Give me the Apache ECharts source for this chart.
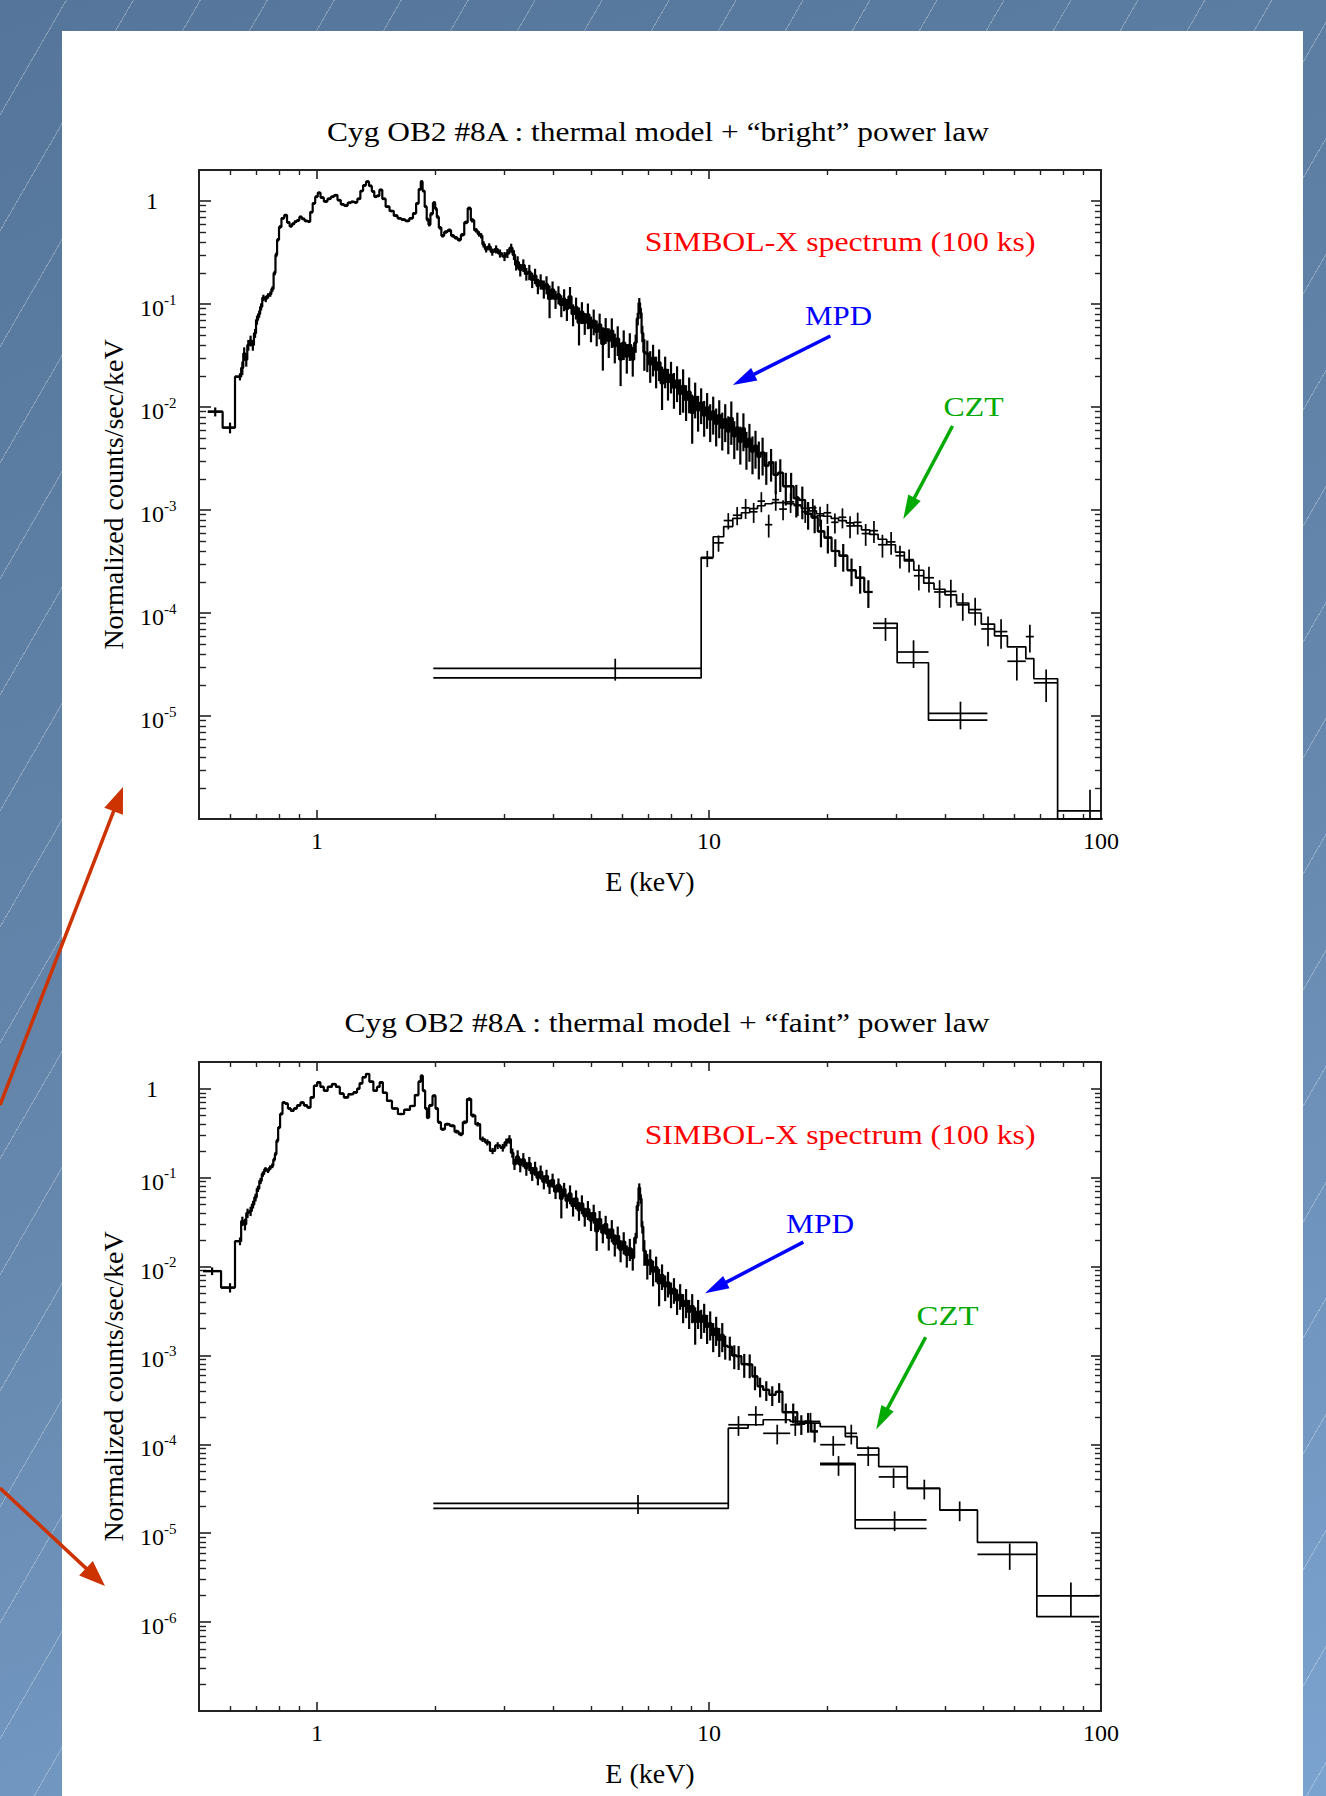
<!DOCTYPE html>
<html>
<head>
<meta charset="utf-8">
<title>Cyg OB2 #8A - SIMBOL-X spectra</title>
<script src="https://cdn.jsdelivr.net/npm/echarts@6/dist/echarts.min.js"></script>
<style>
  html, body { margin: 0; padding: 0; }
  body {
    width: 1326px; height: 1796px; position: relative; overflow: hidden;
    background:
      repeating-linear-gradient(120deg, rgba(255,255,255,0) 0px, rgba(255,255,255,0) 57px, rgba(255,255,255,0.28) 57px, rgba(255,255,255,0.28) 58px),
      linear-gradient(160deg, #55769a 0%, #6688ae 55%, #7ba3cf 100%);
  }
  #sheet { position: absolute; left: 62px; top: 31px; width: 1241px; height: 1765px; background: #fff; }
  #chart { position: absolute; left: 0; top: 0; width: 1326px; height: 1796px; }
</style>
</head>
<body>
<div id="sheet"></div>
<div id="chart"></div>
<script>
// ---- axes ----
var energyTicks = [1, 10, 100];
var minorSteps = [2, 3, 4, 5, 6, 7, 8, 9];
var countTicksBright = [1, 0.1, 0.01, 0.001, 1e-4, 1e-5];
var countTicksFaint = [1, 0.1, 0.01, 0.001, 1e-4, 1e-5, 1e-6];

var panelTitles = [
  'Cyg OB2 #8A : thermal model + \u201cbright\u201d power law',
  'Cyg OB2 #8A : thermal model + \u201cfaint\u201d power law'
];

// ---- MPD, bright power law : [E keV, counts/s/keV, fractional error] ----
var mpdBright = [
  [0.55, 0.0090, 0.10], [0.60, 0.0063, 0.12], [0.636, 0.0197, 0.08], [0.645, 0.024, 0.15],
  [0.652, 0.033, 0.15], [0.660, 0.029, 0.15], [0.668, 0.040, 0.12], [0.677, 0.044, 0.12],
  [0.686, 0.040, 0.12], [0.695, 0.052, 0.10], [0.703, 0.070, 0.10], [0.712, 0.080, 0.08],
  [0.720, 0.094, 0.08], [0.730, 0.115, 0.07], [0.740, 0.112, 0.07], [0.750, 0.120, 0.06],
  [0.760, 0.125, 0.06], [0.770, 0.140, 0.06], [0.780, 0.200, 0.05], [0.787, 0.300, 0.05],
  [0.795, 0.420, 0.04], [0.805, 0.560, 0.04], [0.818, 0.680, 0.03], [0.832, 0.730, 0.03],
  [0.845, 0.620, 0.03], [0.858, 0.570, 0.03], [0.870, 0.600, 0.03], [0.882, 0.630, 0.03],
  [0.895, 0.650, 0.03], [0.908, 0.700, 0.03], [0.922, 0.670, 0.03], [0.938, 0.640, 0.03],
  [0.954, 0.630, 0.03], [0.968, 0.780, 0.03], [0.982, 0.950, 0.03], [0.997, 1.10, 0.03],
  [1.012, 1.20, 0.03], [1.030, 1.08, 0.03], [1.052, 0.99, 0.03], [1.075, 1.05, 0.03],
  [1.095, 1.10, 0.03], [1.116, 1.14, 0.03], [1.140, 1.02, 0.03], [1.160, 0.93, 0.03],
  [1.185, 0.90, 0.03], [1.210, 0.96, 0.03], [1.231, 0.98, 0.03], [1.255, 0.97, 0.03],
  [1.280, 1.05, 0.03], [1.300, 1.25, 0.03], [1.322, 1.42, 0.03], [1.345, 1.54, 0.03],
  [1.370, 1.40, 0.03], [1.390, 1.24, 0.03], [1.410, 1.10, 0.03], [1.430, 1.12, 0.03],
  [1.455, 1.28, 0.03], [1.480, 1.05, 0.03], [1.513, 0.88, 0.03], [1.550, 0.80, 0.03],
  [1.590, 0.72, 0.03], [1.621, 0.68, 0.03], [1.660, 0.66, 0.03], [1.700, 0.64, 0.03],
  [1.740, 0.68, 0.03], [1.775, 0.76, 0.03], [1.805, 0.95, 0.03], [1.830, 1.30, 0.03],
  [1.849, 1.54, 0.03], [1.870, 1.25, 0.03], [1.895, 0.88, 0.03], [1.915, 0.66, 0.04],
  [1.934, 0.59, 0.04], [1.960, 0.75, 0.04], [1.992, 0.96, 0.04], [2.012, 0.84, 0.04],
  [2.031, 0.70, 0.04], [2.060, 0.55, 0.04], [2.092, 0.46, 0.04], [2.130, 0.50, 0.04],
  [2.176, 0.52, 0.04], [2.220, 0.46, 0.04], [2.260, 0.44, 0.04], [2.307, 0.42, 0.04],
  [2.350, 0.47, 0.04], [2.400, 0.62, 0.04], [2.447, 0.85, 0.04], [2.490, 0.65, 0.05],
  [2.546, 0.52, 0.05], [2.590, 0.48, 0.06], [2.623, 0.46, 0.06], [2.660, 0.38, 0.07],
  [2.701, 0.34, 0.07], [2.750, 0.36, 0.08], [2.800, 0.32, 0.08], [2.864, 0.34, 0.09],
  [2.930, 0.31, 0.09], [3.008, 0.29, 0.10], [3.060, 0.31, 0.10], [3.129, 0.35, 0.10],
  [3.180, 0.30, 0.11], [3.222, 0.24, 0.12],
  [3.25, 0.255, 0.14], [3.30, 0.215, 0.14], [3.36, 0.238, 0.14], [3.42, 0.196, 0.14],
  [3.48, 0.205, 0.17], [3.54, 0.172, 0.17], [3.60, 0.188, 0.17], [3.66, 0.150, 0.17],
  [3.72, 0.166, 0.17], [3.79, 0.141, 0.20], [3.85, 0.155, 0.20], [3.92, 0.112, 0.35],
  [3.99, 0.138, 0.20], [4.06, 0.112, 0.20], [4.13, 0.124, 0.20], [4.20, 0.098, 0.24],
  [4.27, 0.112, 0.24], [4.34, 0.090, 0.24], [4.42, 0.118, 0.24], [4.50, 0.080, 0.24],
  [4.58, 0.093, 0.24], [4.66, 0.066, 0.40], [4.74, 0.084, 0.24], [4.82, 0.066, 0.24],
  [4.91, 0.079, 0.28], [5.00, 0.059, 0.28], [5.08, 0.069, 0.28], [5.17, 0.054, 0.28],
  [5.26, 0.063, 0.28], [5.36, 0.041, 0.45], [5.45, 0.057, 0.28], [5.55, 0.044, 0.32],
  [5.65, 0.055, 0.32], [5.75, 0.039, 0.32], [5.85, 0.046, 0.32], [5.95, 0.029, 0.45],
  [6.06, 0.042, 0.32], [6.17, 0.031, 0.32], [6.28, 0.040, 0.30], [6.39, 0.029, 0.32],
  [6.50, 0.042, 0.20], [6.58, 0.072, 0.14], [6.64, 0.102, 0.12], [6.70, 0.082, 0.12],
  [6.76, 0.052, 0.18], [6.84, 0.034, 0.34], [6.96, 0.033, 0.34], [7.08, 0.026, 0.34],
  [7.20, 0.030, 0.34], [7.33, 0.023, 0.34], [7.46, 0.027, 0.34], [7.59, 0.017, 0.45],
  [7.73, 0.023, 0.34], [7.86, 0.0175, 0.34], [8.00, 0.0205, 0.34], [8.14, 0.0155, 0.38],
  [8.29, 0.0180, 0.38], [8.44, 0.0135, 0.38], [8.59, 0.0160, 0.45], [8.74, 0.0118, 0.38],
  [8.90, 0.0140, 0.38], [9.06, 0.0088, 0.50], [9.22, 0.0125, 0.38], [9.38, 0.0093, 0.38],
  [9.55, 0.0110, 0.38], [9.72, 0.0083, 0.38], [9.89, 0.0099, 0.38], [10.07, 0.0076, 0.40],
  [10.25, 0.0090, 0.40], [10.43, 0.0069, 0.40], [10.62, 0.0083, 0.40], [10.81, 0.0063, 0.40],
  [11.00, 0.0076, 0.40], [11.20, 0.0058, 0.40], [11.40, 0.0078, 0.45], [11.60, 0.0052, 0.40],
  [11.81, 0.0063, 0.40], [12.02, 0.0046, 0.40], [12.24, 0.0062, 0.40], [12.46, 0.0041, 0.40],
  [12.68, 0.0049, 0.40], [12.91, 0.0037, 0.40], [13.14, 0.0042, 0.40], [13.4, 0.0033, 0.40],
  [13.7, 0.0036, 0.40], [14.0, 0.0027, 0.35], [14.4, 0.0029, 0.35], [14.8, 0.0022, 0.35],
  [15.2, 0.0023, 0.35], [15.7, 0.0017, 0.35], [16.2, 0.0017, 0.35], [16.7, 0.0013, 0.35],
  [17.3, 0.00125, 0.35], [17.9, 0.00092, 0.30], [18.6, 0.00085, 0.30], [19.3, 0.00062, 0.30],
  [20.1, 0.00054, 0.30], [21.0, 0.00040, 0.30], [22.0, 0.00036, 0.30], [23.1, 0.00026, 0.30],
  [24.3, 0.00022, 0.30], [25.5, 0.000160, 0.30]
];
// MPD bright, last wide bins
var mpdBrightTailEdges = [26.2, 30.2, 36.3, 51.3];
var mpdBrightTailData = [7.15e-5, 4.18e-5, 1.06e-5];
var mpdBrightTailModel = [7.94e-5, 3.29e-5, 9.1e-6];
var mpdBrightTailErr = [0.25, 0.30, 0.30];

// ---- CZT, bright power law ----
var cztBrightEdges = [1.98, 9.55, 10.25, 10.9, 11.5, 12.1, 12.7, 13.3, 13.9, 14.5, 15.1, 15.8, 16.5, 17.2,
  18.0, 18.8, 19.6, 20.5, 21.4, 22.4, 23.4, 24.5, 25.7, 27.0, 28.4, 29.9, 31.5, 33.3, 35.3, 37.5,
  40.0, 42.8, 46.0, 49.5, 53.5, 57.7, 64.3, 67.4, 77.5, 110];
var cztBrightData = [2.9e-5, 3.4e-4, 4.8e-4, 7.9e-4, 8.9e-4, 1.05e-3, 9.6e-4, 1.22e-3, 7.2e-4, 1.26e-3,
  1.02e-3, 1.20e-3, 1.12e-3, 9.6e-4, 1.05e-3, 8.8e-4, 9.4e-4, 7.6e-4, 8.5e-4, 7.0e-4,
  7.6e-4, 5.9e-4, 6.3e-4, 4.6e-4, 4.9e-4, 3.6e-4, 3.3e-4, 2.3e-4, 2.2e-4, 1.6e-4,
  1.62e-4, 1.2e-4, 1.08e-4, 7.0e-5, 6.6e-5, 3.4e-5, 5.9e-5, 2.1e-5, 1.2e-6];
var cztBrightModel = [2.35e-5, 3.47e-4, 5.5e-4, 6.9e-4, 8.3e-4, 9.4e-4, 1.03e-3, 1.10e-3, 1.15e-3, 1.18e-3,
  1.18e-3, 1.15e-3, 1.10e-3, 1.04e-3, 9.8e-4, 9.2e-4, 8.7e-4, 8.3e-4, 7.9e-4, 7.5e-4,
  7.0e-4, 6.4e-4, 5.8e-4, 5.2e-4, 4.6e-4, 3.9e-4, 3.2e-4, 2.6e-4, 1.95e-4, 1.7e-4,
  1.5e-4, 1.25e-4, 1.0e-4, 7.8e-5, 6.0e-5, 4.7e-5, 3.6e-5, 2.3e-5, 1.0e-6];
var cztBrightErr = [0.24, 0.18, 0.18, 0.18, 0.20, 0.22, 0.22, 0.22, 0.25, 0.22,
  0.22, 0.22, 0.22, 0.22, 0.22, 0.22, 0.22, 0.22, 0.22, 0.24,
  0.24, 0.24, 0.24, 0.25, 0.25, 0.25, 0.25, 0.28, 0.28, 0.30,
  0.30, 0.30, 0.30, 0.32, 0.32, 0.35, 0.30, 0.35, 0.60];

// ---- MPD, faint power law : [E keV, counts/s/keV, fractional error] ----
var mpdFaint = [
  [0.54, 0.0089, 0.10], [0.60, 0.0058, 0.12], [0.636, 0.0193, 0.10], [0.645, 0.0325, 0.12],
  [0.655, 0.030, 0.15], [0.665, 0.040, 0.12], [0.677, 0.042, 0.12], [0.687, 0.050, 0.10],
  [0.697, 0.060, 0.10], [0.707, 0.075, 0.08], [0.718, 0.092, 0.08], [0.728, 0.110, 0.07],
  [0.739, 0.124, 0.06], [0.750, 0.120, 0.06], [0.760, 0.130, 0.06], [0.769, 0.136, 0.06],
  [0.778, 0.160, 0.05], [0.784, 0.185, 0.05], [0.792, 0.260, 0.05], [0.800, 0.366, 0.04],
  [0.810, 0.520, 0.04], [0.823, 0.700, 0.03], [0.836, 0.680, 0.03], [0.850, 0.600, 0.03],
  [0.865, 0.565, 0.03], [0.880, 0.600, 0.03], [0.898, 0.650, 0.03], [0.917, 0.700, 0.03],
  [0.935, 0.650, 0.03], [0.954, 0.616, 0.03], [0.972, 0.800, 0.03], [0.992, 1.08, 0.03],
  [1.010, 1.18, 0.03], [1.030, 1.05, 0.03], [1.052, 0.95, 0.03], [1.078, 1.05, 0.03],
  [1.105, 1.13, 0.03], [1.130, 1.05, 0.03], [1.157, 0.88, 0.03], [1.184, 0.80, 0.03],
  [1.220, 0.87, 0.03], [1.256, 0.91, 0.03], [1.275, 1.00, 0.03], [1.293, 1.15, 0.03],
  [1.320, 1.35, 0.03], [1.345, 1.465, 0.03], [1.375, 1.20, 0.03], [1.410, 0.95, 0.03],
  [1.435, 1.05, 0.03], [1.455, 1.18, 0.03], [1.490, 0.90, 0.03], [1.527, 0.73, 0.03],
  [1.580, 0.60, 0.03], [1.637, 0.52, 0.03], [1.700, 0.58, 0.03], [1.753, 0.64, 0.03],
  [1.800, 0.85, 0.03], [1.830, 1.20, 0.03], [1.849, 1.40, 0.03], [1.875, 0.95, 0.04],
  [1.900, 0.60, 0.04], [1.915, 0.475, 0.04], [1.950, 0.65, 0.04], [1.992, 0.834, 0.04],
  [2.020, 0.60, 0.04], [2.050, 0.42, 0.04], [2.092, 0.351, 0.04], [2.150, 0.40, 0.04],
  [2.216, 0.383, 0.04], [2.270, 0.33, 0.05], [2.330, 0.308, 0.05], [2.380, 0.42, 0.05],
  [2.447, 0.765, 0.05], [2.500, 0.50, 0.05], [2.570, 0.40, 0.06], [2.646, 0.271, 0.07],
  [2.720, 0.25, 0.08], [2.805, 0.20, 0.08], [2.890, 0.23, 0.09], [2.978, 0.218, 0.10],
  [3.040, 0.25, 0.10], [3.097, 0.271, 0.11], [3.150, 0.19, 0.12], [3.190, 0.142, 0.14],
  [3.25, 0.172, 0.18], [3.30, 0.140, 0.18], [3.36, 0.160, 0.18], [3.42, 0.128, 0.18],
  [3.48, 0.145, 0.18], [3.54, 0.112, 0.18], [3.60, 0.128, 0.18], [3.66, 0.100, 0.18],
  [3.72, 0.116, 0.18], [3.79, 0.090, 0.18], [3.85, 0.104, 0.18], [3.92, 0.080, 0.18],
  [3.99, 0.094, 0.18], [4.06, 0.070, 0.18], [4.13, 0.083, 0.18], [4.20, 0.058, 0.40],
  [4.27, 0.074, 0.18], [4.34, 0.055, 0.18], [4.42, 0.066, 0.24], [4.50, 0.048, 0.24],
  [4.58, 0.058, 0.24], [4.66, 0.043, 0.24], [4.74, 0.051, 0.24], [4.82, 0.037, 0.24],
  [4.91, 0.044, 0.24], [5.00, 0.033, 0.24], [5.08, 0.040, 0.24], [5.17, 0.025, 0.40],
  [5.26, 0.034, 0.24], [5.36, 0.024, 0.24], [5.45, 0.030, 0.24], [5.55, 0.021, 0.28],
  [5.65, 0.026, 0.28], [5.75, 0.018, 0.28], [5.85, 0.022, 0.28], [5.95, 0.0155, 0.28],
  [6.06, 0.0190, 0.28], [6.17, 0.0135, 0.28], [6.28, 0.0160, 0.28], [6.39, 0.0125, 0.28],
  [6.50, 0.021, 0.14], [6.58, 0.048, 0.12], [6.64, 0.077, 0.12], [6.70, 0.058, 0.12],
  [6.76, 0.028, 0.16], [6.84, 0.0150, 0.32], [6.96, 0.0105, 0.32], [7.08, 0.0118, 0.32],
  [7.20, 0.0088, 0.32], [7.33, 0.0098, 0.32], [7.46, 0.0065, 0.45], [7.59, 0.0080, 0.32],
  [7.73, 0.0060, 0.32], [7.86, 0.0066, 0.32], [8.00, 0.0050, 0.32], [8.14, 0.0056, 0.32],
  [8.29, 0.0042, 0.32], [8.44, 0.0048, 0.32], [8.59, 0.0036, 0.36], [8.74, 0.0041, 0.36],
  [8.90, 0.0031, 0.36], [9.06, 0.0036, 0.36], [9.22, 0.0024, 0.45], [9.38, 0.0031, 0.36],
  [9.55, 0.0024, 0.36], [9.72, 0.0028, 0.36], [9.89, 0.0021, 0.36], [10.07, 0.0023, 0.36],
  [10.25, 0.0017, 0.36], [10.43, 0.0020, 0.36], [10.62, 0.0015, 0.36], [10.81, 0.0017, 0.36],
  [11.0, 0.00128, 0.30], [11.3, 0.00125, 0.30], [11.6, 0.00100, 0.30], [11.9, 0.00098, 0.30],
  [12.3, 0.00080, 0.30], [12.7, 0.00079, 0.30], [13.1, 0.00058, 0.30], [13.5, 0.00045, 0.25],
  [14.0, 0.00041, 0.25], [14.5, 0.00036, 0.25], [15.1, 0.00039, 0.25], [15.7, 0.00023, 0.25],
  [16.4, 0.00023, 0.25], [17.2, 0.00017, 0.25], [17.9, 0.00018, 0.25], [18.6, 0.00014, 0.25]
];
var mpdFaintTailEdges = [19.2, 23.6, 35.9];
var mpdFaintTailData = [5.9e-5, 1.41e-5];
var mpdFaintTailModel = [6.1e-5, 1.13e-5];
var mpdFaintTailErr = [0.25, 0.25];

// ---- CZT, faint power law ----
var cztFaintEdges = [1.98, 11.2, 12.58, 13.75, 16.11, 17.09, 19.22, 22.27, 23.86, 27.1, 32.04, 38.8, 48.4, 68.6, 99];
var cztFaintData = [2.17e-5, 1.66e-4, 2.15e-4, 1.33e-4, 1.66e-4, 1.81e-4, 9.9e-5, 1.33e-4, 7.6e-5, 4.3e-5, 3.2e-5, 1.82e-5, 5.77e-6, 1.97e-6];
var cztFaintModel = [1.9e-5, 1.52e-4, 1.66e-4, 1.89e-4, 1.81e-4, 1.73e-4, 1.58e-4, 1.22e-4, 9.04e-5, 5.6e-5, 3.2e-5, 1.82e-5, 7.87e-6, 1.15e-6];
var cztFaintErr = [0.24, 0.25, 0.25, 0.25, 0.25, 0.25, 0.25, 0.25, 0.25, 0.25, 0.25, 0.25, 0.33, 0.42];

// annotation anchors, in data coordinates [E, counts]
var notesBright = { simbol: [21.6, 0.409], mpd: [21.4, 0.0765], mpdFrom: [20.4, 0.0489], mpdTo: [11.5, 0.01636],
  czt: [47.3, 0.0100], cztFrom: [41.8, 0.00654], cztTo: [31.3, 0.000818] };
var notesFaint = { simbol: [21.6, 0.311], mpd: [19.2, 0.0301], mpdFrom: [17.4, 0.0188], mpdTo: [9.77, 0.00501],
  czt: [40.6, 0.00276], cztFrom: [35.7, 0.0016], cztTo: [26.7, 0.000147] };

var SERIF = '"Liberation Serif", "Times New Roman", serif';
var AXIS_COLOR = '#222';

function minorValues(lo, hi) {
  var out = [];
  for (var d = lo; d < hi * 1.0001; d *= 10) {
    minorSteps.forEach(function (m) {
      var v = m * d;
      if (v > lo && v < hi) out.push(v);
    });
  }
  return out;
}

function xAxesFor(g) {
  var minors = minorValues(0.1, 100).filter(function (v) { return v > 0.5; });
  var base = function (extra) {
    return Object.assign({ type: 'log', logBase: 10, gridIndex: g, min: 0.5, max: 100,
      splitLine: { show: false }, axisPointer: { show: false } }, extra);
  };
  var lineOn = { show: true, onZero: false, lineStyle: { color: AXIS_COLOR, width: 2 } };
  return [
    base({ position: 'bottom', axisLine: lineOn,
      axisTick: { inside: true, length: 9, customValues: energyTicks, lineStyle: { color: AXIS_COLOR, width: 1.6 } },
      axisLabel: { customValues: energyTicks, margin: 10, color: '#000', fontFamily: SERIF, fontSize: 24,
        formatter: function (v) { return String(Math.round(v)); } },
      name: 'E (keV)', nameLocation: 'middle', nameGap: 48,
      nameTextStyle: { color: '#000', fontFamily: SERIF, fontSize: 28 } }),
    base({ position: 'bottom', axisLine: { show: false },
      axisTick: { inside: true, length: 5, customValues: minors, lineStyle: { color: AXIS_COLOR, width: 1.4 } },
      axisLabel: { show: false, customValues: minors } }),
    base({ position: 'top', axisLine: lineOn,
      axisTick: { inside: true, length: 9, customValues: energyTicks, lineStyle: { color: AXIS_COLOR, width: 1.6 } },
      axisLabel: { show: false, customValues: energyTicks } }),
    base({ position: 'top', axisLine: { show: false },
      axisTick: { inside: true, length: 5, customValues: minors, lineStyle: { color: AXIS_COLOR, width: 1.4 } },
      axisLabel: { show: false, customValues: minors } })
  ];
}

function yAxesFor(g, min, majors) {
  var minors = minorValues(min, 2);
  var base = function (extra) {
    return Object.assign({ type: 'log', logBase: 10, gridIndex: g, min: min, max: 2,
      splitLine: { show: false }, axisPointer: { show: false } }, extra);
  };
  var lineOn = { show: true, onZero: false, lineStyle: { color: AXIS_COLOR, width: 2 } };
  return [
    base({ position: 'left', axisLine: lineOn,
      axisTick: { inside: true, length: 12, customValues: majors, lineStyle: { color: AXIS_COLOR, width: 1.6 } },
      axisLabel: { customValues: majors, align: 'left', margin: 59, color: '#000', fontFamily: SERIF,
        formatter: function (v) {
          var p = Math.round(Math.log10(v));
          return p === 0 ? '{one|1}' : '{b|10}{s|' + p + '}';
        },
        rich: {
          one: { fontSize: 24, fontFamily: SERIF, color: '#000', padding: [0, 0, 0, 6] },
          b: { fontSize: 24, lineHeight: 24, fontFamily: SERIF, color: '#000', padding: [8, 0, 0, 0] },
          s: { fontSize: 15, lineHeight: 15, fontFamily: SERIF, color: '#000', verticalAlign: 'top' }
        } },
      name: 'Normalized counts/sec/keV', nameLocation: 'middle', nameGap: 72,
      nameTextStyle: { color: '#000', fontFamily: SERIF, fontSize: 28 } }),
    base({ position: 'left', axisLine: { show: false },
      axisTick: { inside: true, length: 7, customValues: minors, lineStyle: { color: AXIS_COLOR, width: 1.4 } },
      axisLabel: { show: false, customValues: minors } }),
    base({ position: 'right', axisLine: lineOn,
      axisTick: { inside: true, length: 10, customValues: majors, lineStyle: { color: AXIS_COLOR, width: 1.6 } },
      axisLabel: { show: false, customValues: majors } }),
    base({ position: 'right', axisLine: { show: false },
      axisTick: { inside: true, length: 6, customValues: minors, lineStyle: { color: AXIS_COLOR, width: 1.4 } },
      axisLabel: { show: false, customValues: minors } })
  ];
}

function crossRenderer(width) {
  return function (params, api) {
    var cs = params.coordSys;
    var left = cs.x, right = cs.x + cs.width, top = cs.y, bottom = cs.y + cs.height;
    var e = api.value(0), v = api.value(1), lo = api.value(2), hi = api.value(3), er = api.value(4);
    var a = api.coord([lo, v]), b = api.coord([hi, v]);
    var c = api.coord([e, v * (1 + er)]), d = api.coord([e, v * (1 - er)]);
    var clampY = function (y) { return Math.max(top, Math.min(bottom, y)); };
    var kids = [];
    if (a[1] >= top && a[1] <= bottom) {
      kids.push({ type: 'line', shape: { x1: Math.max(a[0], left), y1: a[1], x2: Math.min(b[0], right), y2: b[1] },
        style: { stroke: '#000', lineWidth: width } });
    }
    if (c[0] >= left && c[0] <= right && c[1] < bottom) {
      kids.push({ type: 'line', shape: { x1: c[0], y1: clampY(c[1]), x2: d[0], y2: clampY(d[1]) },
        style: { stroke: '#000', lineWidth: width } });
    }
    return { type: 'group', children: kids };
  };
}

function stepLine(lo, hi, vals, axis, width) {
  var pts = [];
  for (var i = 0; i < vals.length; i++) { pts.push([lo[i], vals[i]]); pts.push([hi[i], vals[i]]); }
  return { type: 'line', data: pts, xAxisIndex: axis, yAxisIndex: axis, symbol: 'none', showSymbol: false,
    silent: true, clip: true, z: 3, lineStyle: { color: '#000', width: width } };
}

function crossSeries(items, axis, width) {
  return { type: 'custom', data: items, xAxisIndex: axis, yAxisIndex: axis, renderItem: crossRenderer(width),
    encode: { x: 0, y: 1 }, silent: true, clip: true, z: 4 };
}

// unbinned MPD list: bin edges half-way (in log) between neighbouring energies
function denseSpectrum(rows, axis) {
  var lo = [], hi = [], vals = [], items = [];
  for (var i = 0; i < rows.length; i++) {
    var e = rows[i][0];
    var prev = i > 0 ? rows[i - 1][0] : e * e / rows[i + 1][0];
    var next = i < rows.length - 1 ? rows[i + 1][0] : e * e / rows[i - 1][0];
    lo.push(Math.sqrt(prev * e)); hi.push(Math.sqrt(e * next)); vals.push(rows[i][1]);
    items.push([e, rows[i][1], lo[i], hi[i], rows[i][2]]);
  }
  return [stepLine(lo, hi, vals, axis, 2.2), crossSeries(items, axis, 2.2)];
}

function binnedSpectrum(edges, data, model, err, axis) {
  var lo = edges.slice(0, -1), hi = edges.slice(1), items = [];
  for (var i = 0; i < data.length; i++) {
    items.push([(lo[i] + hi[i]) / 2, data[i], lo[i], hi[i], err[i]]);
  }
  return [stepLine(lo, hi, model, axis, 1.7), crossSeries(items, axis, 1.7)];
}

var series = [].concat(
  denseSpectrum(mpdBright, 0),
  binnedSpectrum(mpdBrightTailEdges, mpdBrightTailData, mpdBrightTailModel, mpdBrightTailErr, 0),
  binnedSpectrum(cztBrightEdges, cztBrightData, cztBrightModel, cztBrightErr, 0),
  denseSpectrum(mpdFaint, 4),
  binnedSpectrum(mpdFaintTailEdges, mpdFaintTailData, mpdFaintTailModel, mpdFaintTailErr, 4),
  binnedSpectrum(cztFaintEdges, cztFaintData, cztFaintModel, cztFaintErr, 4)
);

var chart = echarts.init(document.getElementById('chart'), null, { renderer: 'svg' });
chart.setOption({
  animation: false,
  backgroundColor: 'transparent',
  grid: [
    { left: 199, top: 170, width: 902, height: 649 },
    { left: 199, top: 1062, width: 902, height: 649 }
  ],
  xAxis: xAxesFor(0).concat(xAxesFor(1)),
  yAxis: yAxesFor(0, 1e-6, countTicksBright).concat(yAxesFor(1, 1e-7, countTicksFaint)),
  series: series
});

// ---- titles, labels and arrows ----
var measureCtx = document.createElement('canvas').getContext('2d');
function textScale(text, font, width) {
  measureCtx.font = font;
  var w = measureCtx.measureText(text).width;
  return w > 0 ? width / w : 1;
}
function textEl(text, pos, size, color, width) {
  var font = size + 'px ' + SERIF;
  return { type: 'text', x: pos[0], y: pos[1], scaleX: textScale(text, font, width), z: 60,
    style: { text: text, font: font, fill: color, align: 'center', verticalAlign: 'middle' } };
}
function arrowEls(p1, p2, color, width, headLen, headHalf) {
  var dx = p2[0] - p1[0], dy = p2[1] - p1[1], len = Math.sqrt(dx * dx + dy * dy);
  var ux = dx / len, uy = dy / len;
  var bx = p2[0] - ux * headLen, by = p2[1] - uy * headLen;
  return [
    { type: 'line', z: 60, shape: { x1: p1[0], y1: p1[1], x2: bx + ux * 2, y2: by + uy * 2 },
      style: { stroke: color, lineWidth: width } },
    { type: 'polygon', z: 60, shape: { points: [[p2[0], p2[1]], [bx - uy * headHalf, by + ux * headHalf], [bx + uy * headHalf, by - ux * headHalf]] },
      style: { fill: color } }
  ];
}
function toPx(axis, p) { return chart.convertToPixel({ xAxisIndex: axis, yAxisIndex: axis }, p); }

function panelNotes(axis, n, widths) {
  return [
    textEl('SIMBOL-X spectrum (100 ks)', toPx(axis, n.simbol), 28, '#ff0000', 391),
    textEl('MPD', toPx(axis, n.mpd), 27, '#0000ff', widths[0]),
    textEl('CZT', toPx(axis, n.czt), 27, '#00aa00', widths[1])
  ].concat(
    arrowEls(toPx(axis, n.mpdFrom), toPx(axis, n.mpdTo), '#0000ff', 3.5, 24, 7),
    arrowEls(toPx(axis, n.cztFrom), toPx(axis, n.cztTo), '#00aa00', 3.5, 24, 7)
  );
}

var graphics = [
  textEl(panelTitles[0], [658, 132], 27, '#000', 664),
  textEl(panelTitles[1], [667, 1023], 27, '#000', 647)
].concat(
  panelNotes(0, notesBright, [67, 60]),
  panelNotes(4, notesFaint, [68, 62]),
  arrowEls([0, 1105], [123, 787], '#cc3300', 3.5, 26, 10),
  arrowEls([0, 1488], [105, 1586], '#cc3300', 3.5, 26, 10)
);
chart.setOption({ graphic: graphics });
</script>
</body>
</html>
